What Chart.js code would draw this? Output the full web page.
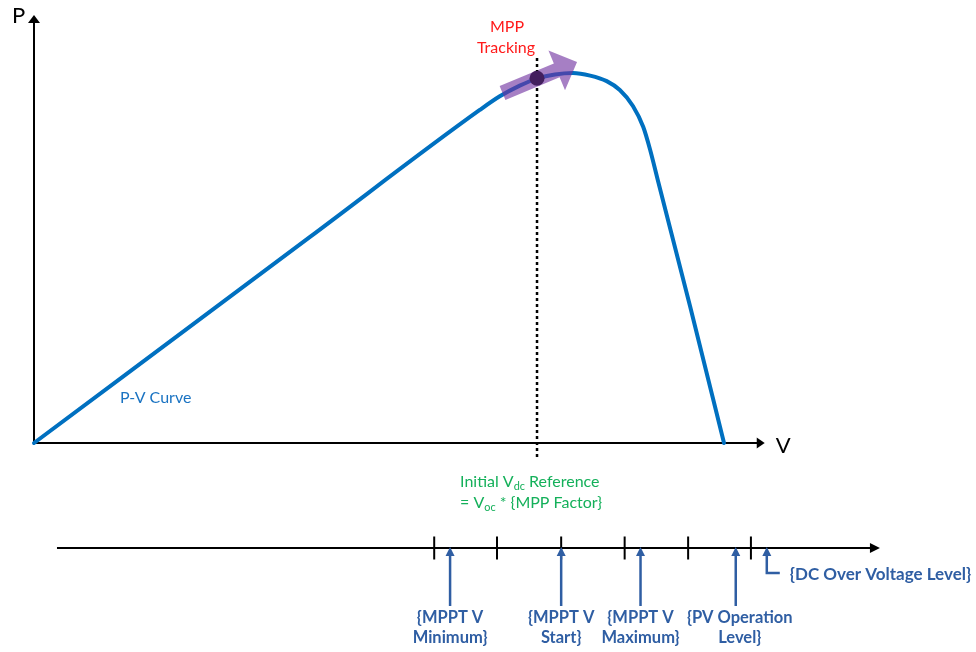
<!DOCTYPE html>
<html><head><meta charset="utf-8">
<script src="https://cdn.jsdelivr.net/npm/chart.js@4/dist/chart.umd.min.js"></script>
<style>html,body{margin:0;padding:0;background:#fff;overflow:hidden}#wrap{width:976px;height:652px;position:relative}</style>
</head><body><div id="wrap"><canvas id="c"></canvas></div>
<script>
// ---- data (voltage in % of Voc, power in % of Pmax) ----
const pvVoltage = [0, 40.0, 64.6, 67.5, 70.4, 72.9, 75.5, 78.1, 80.6, 83.0, 84.9, 86.8, 88.3, 89.3, 90.4, 95.1, 100];
const pvPower   = [0, 55.7, 90.0, 93.7, 96.6, 98.5, 99.6, 100, 99.3, 97.8, 95.4, 91.1, 85.4, 79.2, 71.1, 36.8, 0];
const mppVoltage = 72.9;
const mppPower = 98.6;
const trackStart = [67.9, 94.6];
const trackEnd = [78.7, 103.0];
const scaleTicks = [58.0, 67.1, 76.4, 85.6, 94.8, 103.9];
const levelValues = [60.3, 76.4, 87.9, 101.7, 106.2];
const levelLabels = [['{MPPT V', 'Minimum}'], ['{MPPT V', 'Start}'], ['{MPPT V', 'Maximum}'], ['{PV Operation', 'Level}'], ['{DC Over Voltage Level}']];

// ---- layout (in scale units) ----
const L = {
  xMin: -4.928, xMax: 136.52, yMin: -56.49, yMax: 119.73,
  pTop: 115.7, vRight: 105.9,
  lineP: -28.38, lineStart: 3.33, lineEnd: 122.6,
  dashTop: 104.05, dashBottom: -4.6
};
const FONT = 'Lato, "Open Sans", sans-serif';
const BLUE = '#2F5EA3';

function tri(ctx, tx, ty, ang, len, hw, color) {
  const bx = tx - Math.cos(ang) * len, by = ty - Math.sin(ang) * len;
  const nx = -Math.sin(ang) * hw, ny = Math.cos(ang) * hw;
  ctx.beginPath(); ctx.moveTo(tx, ty); ctx.lineTo(bx + nx, by + ny); ctx.lineTo(bx - nx, by - ny); ctx.closePath();
  ctx.fillStyle = color; ctx.fill();
}
function rich(ctx, parts, x, y, size, color) {
  ctx.fillStyle = color; ctx.textBaseline = 'middle'; ctx.textAlign = 'left';
  let cx = x;
  parts.forEach(p => {
    if (p.sub) { ctx.font = (size * 0.68) + 'px ' + FONT; ctx.fillText(p.t, cx, y + size * 0.28); }
    else { ctx.font = size + 'px ' + FONT; ctx.fillText(p.t, cx, y); }
    cx += ctx.measureText(p.t).width;
  });
}

const diagram = {
  id: 'diagram',
  afterDatasetDraw(chart, args) {
    if (args.index !== 0) return;
    const ctx = chart.ctx, X = v => chart.scales.x.getPixelForValue(v), Y = v => chart.scales.y.getPixelForValue(v);
    const x0 = X(trackStart[0]), y0 = Y(trackStart[1]), x1 = X(trackEnd[0]), y1 = Y(trackEnd[1]);
    const ang = Math.atan2(y1 - y0, x1 - x0), c = Math.cos(ang), s = Math.sin(ang);
    const hl = 22, hh = 21.5, sh = 7.5;
    const bx = x1 - c * hl, by = y1 - s * hl, nx = -s, ny = c;
    ctx.save();
    ctx.beginPath();
    ctx.moveTo(x0 + nx * sh, y0 + ny * sh);
    ctx.lineTo(bx + nx * sh, by + ny * sh);
    ctx.lineTo(bx + nx * hh, by + ny * hh);
    ctx.lineTo(x1, y1);
    ctx.lineTo(bx - nx * hh, by - ny * hh);
    ctx.lineTo(bx - nx * sh, by - ny * sh);
    ctx.lineTo(x0 - nx * sh, y0 - ny * sh);
    ctx.closePath();
    ctx.fillStyle = 'rgba(112,48,160,0.62)';
    ctx.fill();
    ctx.restore();
  },
  afterDraw(chart) {
    const ctx = chart.ctx, X = v => chart.scales.x.getPixelForValue(v), Y = v => chart.scales.y.getPixelForValue(v);
    ctx.save();
    tri(ctx, X(0), Y(L.pTop), -Math.PI / 2, 8, 6, '#000');
    tri(ctx, X(L.vRight), Y(0), 0, 8, 5.5, '#000');
    tri(ctx, X(L.lineEnd), Y(L.lineP), 0, 10, 5, '#000');
    ctx.fillStyle = '#000'; ctx.textBaseline = 'alphabetic'; ctx.textAlign = 'left';
    ctx.font = '22px ' + FONT;
    ctx.fillText('P', X(0) - 22, Y(L.pTop) + 8);
    ctx.fillText('V', X(L.vRight) + 11, Y(0) + 10);
    ctx.fillStyle = '#FF1A1A'; ctx.textAlign = 'center'; ctx.textBaseline = 'middle';
    ctx.font = '16px ' + FONT;
    ctx.fillText('MPP', X(mppVoltage) - 30, 27);
    ctx.fillText('Tracking', X(mppVoltage) - 31, 48);
    ctx.fillStyle = '#1A73C2'; ctx.textAlign = 'left';
    ctx.fillText('P-V Curve', 120, 398);
    const G = '#14B05A';
    rich(ctx, [{t: 'Initial V'}, {t: 'dc', sub: true}, {t: ' Reference'}], X(mppVoltage) - 77, 482, 16, G);
    rich(ctx, [{t: '= V'}, {t: 'oc', sub: true}, {t: ' * {MPP Factor}'}], X(mppVoltage) - 77, 503, 16, G);
    const ly = Y(L.lineP);
    ctx.strokeStyle = BLUE; ctx.lineWidth = 2.5; ctx.lineCap = 'butt';
    levelValues.forEach((v, i) => {
      const x = X(v);
      const tipY = ly - 1;
      tri(ctx, x, tipY, -Math.PI / 2, 9, 4.5, BLUE);
      ctx.beginPath();
      ctx.moveTo(x, tipY + 8);
      if (i === levelValues.length - 1) {
        ctx.lineTo(x, ly + 25); ctx.lineTo(x + 13, ly + 25);
      } else {
        ctx.lineTo(x, ly + 58);
      }
      ctx.stroke();
      ctx.fillStyle = BLUE; ctx.textBaseline = 'middle';
      const lines = levelLabels[i];
      if (i === levelValues.length - 1) {
        ctx.font = 'bold 17px ' + FONT;
        ctx.textAlign = 'left';
        ctx.fillText(lines[0], x + 23, ly + 27);
      } else {
        ctx.font = 'bold 16.5px ' + FONT;
        ctx.textAlign = 'center';
        const dx = i === 3 ? 4 : 0;
        lines.forEach((t, k) => ctx.fillText(t, x + dx, ly + 70 + k * 20));
      }
    });
    ctx.restore();
  }
};

const pts = (xs, ys) => xs.map((x, i) => ({x, y: ys[i]}));

new Chart(document.getElementById('c'), {
  type: 'scatter',
  data: {
    datasets: [
      { data: pts(pvVoltage, pvPower), showLine: true, borderColor: '#0070C0', borderWidth: 4, pointRadius: 0,
        cubicInterpolationMode: 'monotone', borderCapStyle: 'round', order: 3, clip: false },
      { data: [{x: mppVoltage, y: L.dashTop}, {x: mppVoltage, y: L.dashBottom}], showLine: true, borderColor: '#000',
        borderWidth: 2.5, borderDash: [3, 3], pointRadius: 0, order: 2, clip: false },
      { data: [{x: mppVoltage, y: mppPower}], pointRadius: 7.5, backgroundColor: '#431F5E', borderWidth: 0, order: 1 },
      { data: [{x: 0, y: 0}, {x: 0, y: L.pTop - 2}], showLine: true, borderColor: '#000', borderWidth: 2, pointRadius: 0, order: 6, clip: false },
      { data: [{x: 0, y: 0}, {x: L.vRight - 1, y: 0}], showLine: true, borderColor: '#000', borderWidth: 2, pointRadius: 0, order: 6, clip: false },
      { data: [{x: L.lineStart, y: L.lineP}, {x: L.lineEnd - 1.2, y: L.lineP}], showLine: true, borderColor: '#000', borderWidth: 2, pointRadius: 0, order: 6, clip: false },
      { data: scaleTicks.map(v => ({x: v, y: L.lineP})), pointStyle: 'line', rotation: 90, pointRadius: 11.5,
        borderColor: '#000', borderWidth: 2, order: 5, clip: false }
    ]
  },
  options: {
    responsive: true, maintainAspectRatio: false, animation: false,
    layout: { padding: 0, autoPadding: false },
    plugins: { legend: { display: false }, tooltip: { enabled: false } },
    events: [],
    scales: {
      x: { type: 'linear', display: false, min: L.xMin, max: L.xMax },
      y: { type: 'linear', display: false, min: L.yMin, max: L.yMax }
    }
  },
  plugins: [diagram]
});
</script>
</body></html>
